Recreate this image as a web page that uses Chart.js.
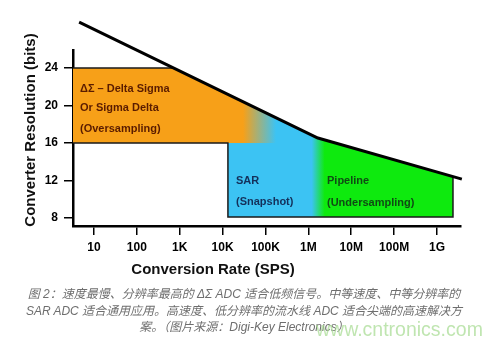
<!DOCTYPE html>
<html>
<head>
<meta charset="utf-8">
<script src="https://cdn.jsdelivr.net/npm/chart.js@4/dist/chart.umd.min.js"></script>
<style>
  html, body { margin: 0; padding: 0; background: #fff; }
  #wrap { position: relative; width: 498px; height: 344px; overflow: hidden; }
  canvas { position: absolute; left: 0; top: 0; }
  .cap { position: absolute; left: 0; width: 488px; text-align: center; font-family: "Liberation Sans", Arial, "Noto Sans CJK SC", sans-serif; font-style: italic; font-size: 12px; color: #6e6e6e; white-space: nowrap; line-height: 14px; }
  #wm { position: absolute; left: 316px; top: 317px; font-family: "Liberation Sans", Arial, sans-serif; font-size: 19.5px; color: rgba(170, 220, 150, 0.75); white-space: nowrap; line-height: 24px; }
</style>
</head>
<body>
<div id="wrap">
  <canvas id="c" width="498" height="344"></canvas>
  <div class="cap" style="top:287px">图 2：速度最慢、分辨率最高的 ΔΣ ADC 适合低频信号。中等速度、中等分辨率的</div>
  <div class="cap" style="top:304px">SAR ADC 适合通用应用。高速度、低分辨率的流水线 ADC 适合尖端的高速解决方</div>
  <div class="cap" style="top:320px">案。（图片来源：Digi-Key Electronics）</div>
  <div id="wm">www.cntronics.com</div>
</div>
<script>
// ---- data (conversion rate in SPS, resolution in bits) ----
const tickRates  = [10, 100, 1e3, 1e4, 1e5, 1e6, 1e7, 1e8, 1e9];
const tickLabels = ['10', '100', '1K', '10K', '100K', '1M', '10M', '100M', '1G'];
const bitTicks   = [8, 12, 16, 20, 24];

// upper limit curve
const limitRates = [4.5, 1.67e6, 3.8e9];
const limitBits  = [28.9, 16.53, 12.15];

// Delta-Sigma region (top edge, filled down to 16 bits)
const deltaSigmaRates = [3.24, 735, 2.18e5];
const deltaSigmaBits  = [24, 24, 18.5];
const deltaSigmaBase  = 16;

// SAR region (top edge, filled down to ~8 bits)
const sarRates = [1.33e4, 1.67e6, 2.44e6];
const sarBits  = [21.2, 16.53, 16.32];
const sarBase  = 8.1;

// Pipeline region (top edge, filled down to ~8 bits)
const pipelineRates = [1.09e6, 1.67e6, 2.36e9];
const pipelineBits  = [16.95, 16.53, 12.43];
const pipelineBase  = 8.1;

// outline segments of the regions (null breaks the line)
const outlineRates = [3.24, 735, 735, 3.24, 1.33e4, 1.33e4, 2.36e9, 2.36e9];
const outlineBits  = [24, 24, null, 16, 16, 8.1, 8.1, 12.43];

// fade ranges (rates)
const dsFade   = [2.99e4, 1.76e5];
const pipeFade = [1.2e6, 2.4e6];

const pts = (xs, ys) => xs.map((x, i) => ({ x: x, y: ys[i] }));

function hGrad(chart, r0, r1, c0, c1) {
  const xs = chart.scales.x;
  if (!xs || !chart.chartArea) return c1;
  const g = chart.ctx.createLinearGradient(xs.getPixelForValue(r0), 0, xs.getPixelForValue(r1), 0);
  g.addColorStop(0, c0);
  g.addColorStop(1, c1);
  return g;
}

const textPlugin = {
  id: 'texts',
  afterDatasetsDraw(chart) {
    const ctx = chart.ctx;
    ctx.save();
    ctx.textBaseline = 'middle';
    ctx.textAlign = 'left';
    ctx.font = 'bold 11px "Liberation Sans", Arial, sans-serif';
    ctx.fillStyle = '#5a1c00';
    ctx.fillText('ΔΣ – Delta Sigma', 80, 89);
    ctx.fillText('Or Sigma Delta', 80, 108);
    ctx.fillText('(Oversampling)', 80, 129);
    ctx.fillStyle = '#14305a';
    ctx.fillText('SAR', 236, 181);
    ctx.fillText('(Snapshot)', 236, 202);
    ctx.fillStyle = '#104a14';
    ctx.fillText('Pipeline', 327, 181);
    ctx.fillText('(Undersampling)', 327, 203);
    ctx.restore();
  },
  afterDraw(chart) {
    const ctx = chart.ctx;
    ctx.save();
    ctx.fillStyle = '#111';
    ctx.font = 'bold 15px "Liberation Sans", Arial, sans-serif';
    ctx.textAlign = 'center';
    ctx.textBaseline = 'middle';
    ctx.fillText('Conversion Rate (SPS)', 213, 270);
    ctx.translate(31, 130);
    ctx.rotate(-Math.PI / 2);
    ctx.fillText('Converter Resolution (bits)', 0, 0);
    ctx.restore();
  }
};

new Chart(document.getElementById('c'), {
  type: 'line',
  data: {
    datasets: [
      {
        label: 'limit', data: pts(limitRates, limitBits), order: 0,
        borderColor: '#000', borderWidth: 3, pointRadius: 0, fill: false, clip: false,
        borderCapStyle: 'butt', borderJoinStyle: 'round'
      },
      {
        label: 'outline', data: pts(outlineRates, outlineBits), order: 1,
        borderColor: '#1a1a1a', borderWidth: 1.5, pointRadius: 0, fill: false, spanGaps: false
      },
      {
        label: 'Delta Sigma', data: pts(deltaSigmaRates, deltaSigmaBits), order: 2,
        borderWidth: 0, borderColor: 'rgba(0,0,0,0)', pointRadius: 0,
        fill: { value: deltaSigmaBase },
        backgroundColor: (c) => hGrad(c.chart, dsFade[0], dsFade[1], 'rgba(247,160,24,1)', 'rgba(247,160,24,0)')
      },
      {
        label: 'Pipeline', data: pts(pipelineRates, pipelineBits), order: 3,
        borderWidth: 0, borderColor: 'rgba(0,0,0,0)', pointRadius: 0,
        fill: { value: pipelineBase },
        backgroundColor: (c) => hGrad(c.chart, pipeFade[0], pipeFade[1], 'rgba(14,234,14,0)', 'rgba(14,234,14,1)')
      },
      {
        label: 'SAR', data: pts(sarRates, sarBits), order: 4,
        borderWidth: 0, borderColor: 'rgba(0,0,0,0)', pointRadius: 0,
        fill: { value: sarBase },
        backgroundColor: '#3cc3f3'
      }
    ]
  },
  options: {
    responsive: false,
    animation: false,
    devicePixelRatio: 1,
    layout: { padding: { top: 50, right: 37, left: 0, bottom: 0 } },
    plugins: { legend: { display: false }, tooltip: { enabled: false } },
    scales: {
      x: {
        type: 'logarithmic',
        min: 3.24, max: 3.63e9,
        afterBuildTicks: (s) => { s.ticks = tickRates.map(v => ({ value: v })); },
        afterFit: (s) => { s.height = 118; },
        ticks: {
          autoSkip: false, maxRotation: 0, color: '#000', padding: 5,
          font: { family: '"Liberation Sans", Arial, sans-serif', size: 12, weight: 'bold' },
          callback: (v) => tickLabels[tickRates.indexOf(v)]
        },
        grid: { drawOnChartArea: false, drawTicks: true, tickLength: 9, color: '#000', lineWidth: 1.5 },
        border: { display: true, color: '#000', width: 2.5 }
      },
      y: {
        type: 'linear',
        min: 7.15, max: 25.92,
        afterBuildTicks: (s) => { s.ticks = bitTicks.map(v => ({ value: v })); },
        afterFit: (s) => { s.width = 73; },
        ticks: {
          color: '#000', padding: 6,
          font: { family: '"Liberation Sans", Arial, sans-serif', size: 12, weight: 'bold' }
        },
        grid: { drawOnChartArea: false, drawTicks: true, tickLength: 9, color: '#000', lineWidth: 1.5 },
        border: { display: true, color: '#000', width: 2.5 }
      }
    }
  },
  plugins: [textPlugin]
});
</script>
</body>
</html>
